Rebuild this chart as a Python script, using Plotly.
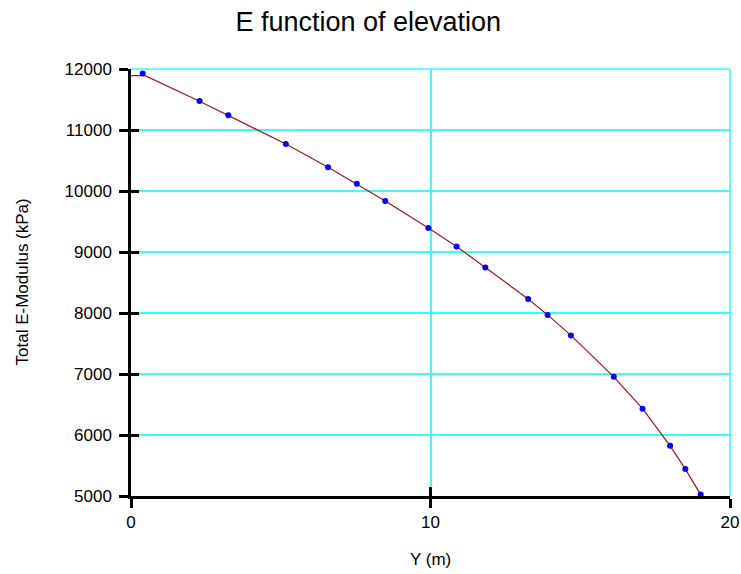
import plotly.graph_objects as go

# Data
dot_x = [0.39, 2.29, 3.25, 5.17, 6.58, 7.54, 8.49, 9.93, 10.87, 11.83,
         13.26, 13.91, 14.69, 16.12, 17.08, 18.00, 18.51, 19.02]
dot_y = [11925, 11476, 11243, 10770, 10390, 10117, 9835, 9395, 9090, 8747,
         8230, 7969, 7633, 6953, 6431, 5822, 5441, 5023]

line_x = [0.0, 0.47, 2.29, 3.25, 5.17, 6.58, 7.54, 8.49, 9.93, 10.87, 11.83,
          13.26, 13.91, 14.69, 16.12, 17.08, 18.00, 18.51, 19.02]
line_y = [11890, 11890, 11470, 11240, 10770, 10390, 10117, 9835, 9395, 9090, 8747,
          8230, 7969, 7633, 6953, 6431, 5822, 5441, 5023]

x_ticks = [0, 10, 20]
y_ticks = [5000, 6000, 7000, 8000, 9000, 10000, 11000, 12000]

FONT = "Liberation Sans, Arial, sans-serif"
GRID = "#33FFFF"

fig = go.Figure()
fig.add_trace(go.Scatter(x=line_x, y=line_y, mode="lines",
                         line=dict(color="#A01818", width=1.2),
                         hoverinfo="skip", showlegend=False, cliponaxis=False))
fig.add_trace(go.Scatter(x=dot_x, y=dot_y, mode="markers",
                         marker=dict(color="#0000FF", size=6),
                         showlegend=False, cliponaxis=False))
# empty trace to carry the overlay (inside tick) axes
fig.add_trace(go.Scatter(x=[], y=[], xaxis="x2", yaxis="y2", showlegend=False))

# cyan border lines on the top and right edges (grid lines at range ends)
fig.add_shape(type="line", xref="paper", yref="paper", x0=0, x1=1, y0=1, y1=1,
              line=dict(color=GRID, width=1.6), layer="below")
fig.add_shape(type="line", xref="paper", yref="paper", x0=1, x1=1, y0=0, y1=1,
              line=dict(color=GRID, width=1.6), layer="below")

fig.update_layout(
    width=741, height=574,
    margin=dict(l=131, r=11, t=69, b=78),
    paper_bgcolor="white", plot_bgcolor="white",
    font=dict(family=FONT, color="black", size=17),
    title=dict(text="E function of elevation", x=0.497, xanchor="center",
               y=1 - 22 / 574, yanchor="middle", yref="container",
               font=dict(size=27, family=FONT, color="black")),
    xaxis=dict(range=[0, 20], tickvals=x_ticks, ticktext=[str(v) for v in x_ticks],
               showgrid=True, gridcolor=GRID, gridwidth=1.6,
               showline=True, linecolor="black", linewidth=2.5,
               ticks="outside", ticklen=9, tickwidth=2.5, tickcolor="black",
               zeroline=False, automargin=False),
    yaxis=dict(range=[5000, 12000], tickvals=y_ticks, ticktext=[str(v) for v in y_ticks],
               showgrid=True, gridcolor=GRID, gridwidth=1.6,
               showline=True, linecolor="black", linewidth=2.5,
               ticks="outside", ticklen=9, tickwidth=2.5, tickcolor="black",
               ticklabelstandoff=4,
               zeroline=False, automargin=False),
    xaxis2=dict(range=[0, 20], tickvals=x_ticks, overlaying="x", anchor="y2",
                side="bottom", ticks="inside", ticklen=9, tickwidth=2.5,
                tickcolor="black", showticklabels=False, showgrid=False,
                showline=False, zeroline=False, automargin=False),
    yaxis2=dict(range=[5000, 12000], tickvals=y_ticks, overlaying="y", anchor="x2",
                side="left", ticks="inside", ticklen=8, tickwidth=2.5,
                tickcolor="black", showticklabels=False, showgrid=False,
                showline=False, zeroline=False, automargin=False),
    annotations=[
        dict(text="Y (m)", xref="paper", yref="paper", x=0.5, y=-63 / 427,
             xanchor="center", yanchor="middle", showarrow=False,
             font=dict(size=17, family=FONT, color="black")),
        dict(text="Total E-Modulus (kPa)", xref="paper", yref="paper",
             x=-109 / 599, y=0.5, xanchor="center", yanchor="middle",
             textangle=-90, showarrow=False,
             font=dict(size=17, family=FONT, color="black")),
    ],
)

fig.write_html("out.html",
               config={"displayModeBar": False},
               post_script="document.body.style.margin='0px';"
                           "document.body.style.overflow='hidden';")
